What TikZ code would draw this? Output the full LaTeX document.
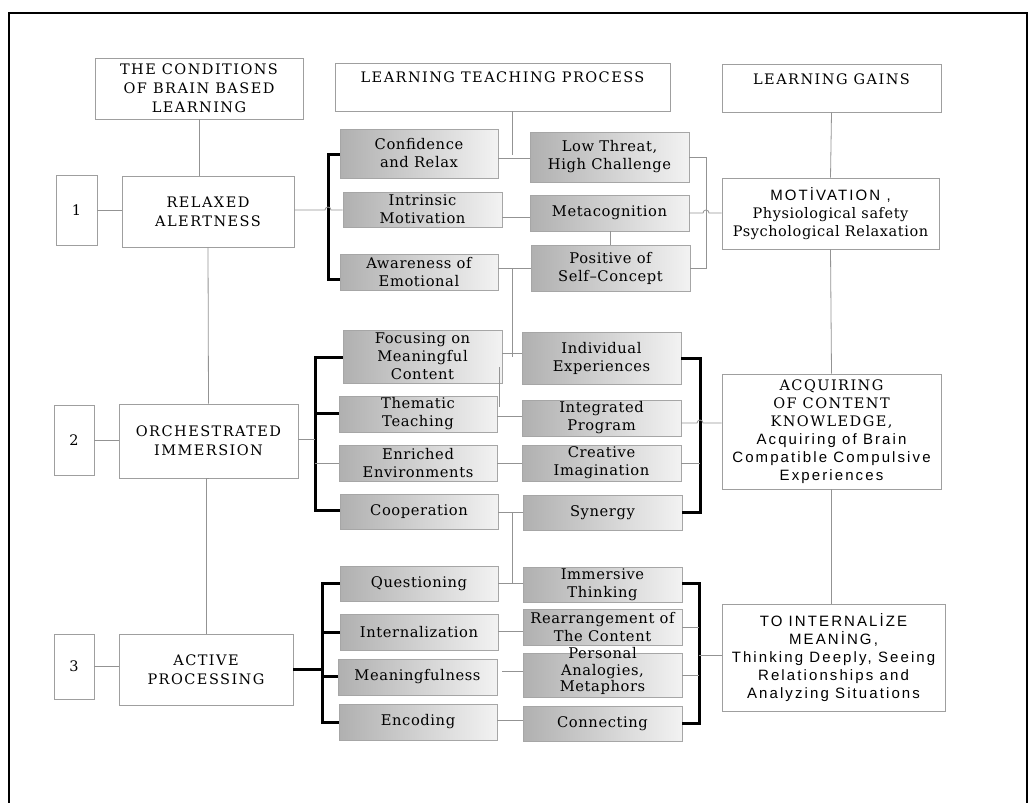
\documentclass[tikz,border=0pt]{standalone}
\usepackage{fontspec}
\setmainfont[LetterSpace=4]{DejaVu Serif}
\newfontfamily\capfont[LetterSpace=10]{DejaVu Serif}
\newfontfamily\gainsans[LetterSpace=14]{Liberation Sans}
\usetikzlibrary{calc}
\tikzset{
  wbox/.style={draw=gray!75, line width=0.9pt, fill=white, inner sep=0pt, align=center, text=black,
    font=\capfont\fontsize{14.5}{19}\selectfont},
  sbox/.style={draw=gray!75, line width=0.9pt, fill=white, inner sep=0pt, align=center, text=black,
    font=\fontsize{14.5}{18}\selectfont},
  gbox/.style={draw=gray!70, line width=0.8pt, left color=gray!62, right color=gray!10, inner sep=0pt,
    align=center, text=black, font=\fontsize{14.7}{18}\selectfont},
  conn/.style={draw=gray!85, line width=0.8pt},
  brk/.style={draw=black, line width=3pt, line join=miter},
}
\begin{document}
\begin{tikzpicture}[x=1pt,y=-1pt]
\useasboundingbox (0,0) rectangle (1028,803);
% outer frame
\draw[black, line width=2pt] (9,810) -- (9,13) -- (1027,13) -- (1027,810);

% headers
\node[wbox, minimum width=208pt, minimum height=61pt] (h1) at (199,88.5) {THE CONDITIONS\\OF BRAIN BASED\\LEARNING};
\node[wbox, minimum width=335pt, minimum height=48pt] (h2) at (502.5,87) {\raisebox{5pt}[0pt][0pt]{LEARNING TEACHING PROCESS}};
\node[wbox, minimum width=219pt, minimum height=48pt] (h3) at (831.5,88) {\raisebox{4pt}[0pt][0pt]{LEARNING GAINS}};

% left column
\node[sbox, minimum width=41pt, minimum height=70pt] (n1) at (76.5,210) {1};
\node[wbox, minimum width=172pt, minimum height=71pt] (ra) at (208,211.5) {RELAXED\\ALERTNESS};
\node[sbox, minimum width=40pt, minimum height=70pt] (n2) at (74,440) {2};
\node[wbox, minimum width=179pt, minimum height=74pt] (oi) at (208.5,441) {ORCHESTRATED\\IMMERSION};
\node[sbox, minimum width=40pt, minimum height=65pt] (n3) at (74,666.5) {3};
\node[wbox, minimum width=174pt, minimum height=71pt] (ap) at (206,669.5) {ACTIVE\\PROCESSING};

% right column
\node[sbox, minimum width=217pt, minimum height=71pt] (mot) at (830.5,213.5)
  {{\gainsans\fontsize{15}{18}\selectfont MOT\.IVATION ,}\\Physiological safety\\Psychological Relaxation};
\node[sbox, minimum width=219pt, minimum height=115pt] (acq) at (831.5,431.5)
  {{\capfont\fontsize{14.5}{18}\selectfont ACQUIRING}\\{\capfont\fontsize{14.5}{18}\selectfont OF CONTENT}\\{\capfont\fontsize{14.5}{18}\selectfont KNOWLEDGE,}\\
   {\gainsans\fontsize{15}{18}\selectfont Acquiring of Brain}\\{\gainsans\fontsize{15}{18}\selectfont Compatible Compulsive}\\{\gainsans\fontsize{15}{18}\selectfont Experiences}};
\node[sbox, minimum width=223pt, minimum height=107pt, font=\gainsans\fontsize{15}{18}\selectfont] (tim) at (833.5,657.5)
  {TO INTERNAL\.IZE\\MEAN\.ING,\\Thinking Deeply, Seeing\\Relationships and\\Analyzing Situations};

% gray boxes, group 1
\node[gbox, minimum width=158pt, minimum height=49pt] (c1) at (419,153.5) {Confidence\\and Relax};
\node[gbox, minimum width=159pt, minimum height=35pt] (c2) at (422.5,209.5) {Intrinsic\\Motivation};
\node[gbox, minimum width=158pt, minimum height=36pt] (c3) at (419,272) {Awareness of\\Emotional};
\node[gbox, minimum width=159pt, minimum height=50pt] (d1) at (609.5,157) {Low Threat,\\High Challenge};
\node[gbox, minimum width=159pt, minimum height=36pt] (d2) at (609.5,213) {Metacognition};
\node[gbox, minimum width=159pt, minimum height=46pt] (d3) at (610.5,268) {Positive of\\Self--Concept};

% group 2
\node[gbox, minimum width=159pt, minimum height=53pt] (e1) at (422.5,356.5) {Focusing on\\Meaningful\\Content};
\node[gbox, minimum width=158pt, minimum height=36pt] (e2) at (418,414) {Thematic\\Teaching};
\node[gbox, minimum width=158pt, minimum height=36pt] (e3) at (418,463) {Enriched\\Environments};
\node[gbox, minimum width=158pt, minimum height=35pt] (e4) at (419,511.5) {Cooperation};
\node[gbox, minimum width=159pt, minimum height=52pt] (f1) at (601.5,358) {Individual\\Experiences};
\node[gbox, minimum width=159pt, minimum height=36pt] (f2) at (601.5,418) {Integrated\\Program};
\node[gbox, minimum width=159pt, minimum height=36pt] (f3) at (601.5,463) {Creative\\Imagination};
\node[gbox, minimum width=159pt, minimum height=35pt] (f4) at (602.5,512.5) {Synergy};

% group 3
\node[gbox, minimum width=158pt, minimum height=35pt] (g1) at (419,583.5) {Questioning};
\node[gbox, minimum width=158pt, minimum height=36pt] (g2) at (419,632) {Internalization};
\node[gbox, minimum width=159pt, minimum height=36pt] (g3) at (417.5,677) {Meaningfulness};
\node[gbox, minimum width=158pt, minimum height=36pt] (g4) at (418,722) {Encoding};
\node[gbox, minimum width=159pt, minimum height=35pt] (k1) at (602.5,584.5) {Immersive\\Thinking};
\node[gbox, minimum width=159pt, minimum height=36pt] (k2) at (602.5,627) {Rearrangement of\\The Content};
\node[gbox, minimum width=159pt, minimum height=44pt] (k3) at (602.5,675)
  {\smash{\begin{tabular}{@{}c@{}}Personal\\[-1.5pt]Analogies,\\[-1.5pt]Metaphors\end{tabular}}};
\node[gbox, minimum width=159pt, minimum height=35pt] (k4) at (602.5,723.5) {Connecting};

% coordinates
\coordinate (t1) at (512,155);
\coordinate (v1) at (512,268);
\coordinate (v2) at (512,357);
\coordinate (v3) at (512,512);
\coordinate (v4) at (512,583);
\coordinate (w1) at (499,367);
\coordinate (w2) at (499,407);

% spine connectors
\draw[conn] (h1.south) -- (h1.south |- ra.north);
\draw[conn] (ra.south) -- (oi.north);
\draw[conn] (oi.south) -- (ap.north |- oi.south) -- (ap.north);
\draw[conn] (n1.east) -- (n1.east -| ra.west);
\draw[conn] (n2.east) -- (n2.east -| oi.west);
\draw[conn] (n3.east) -- (n3.east -| ap.west);
\draw[conn] (t1 |- h2.south) -- (t1);
\draw[conn] (h3.south) -- (mot.north);
\draw[conn] (mot.south) -- (acq.north);
\draw[conn] (acq.south) -- (acq.south |- tim.north);

% group 1 connectors
\draw[conn] (c1.east |- 0,158) -- (d1.west |- 0,158);
\draw[conn] (c2.east |- 0,217) -- (d2.west |- 0,217);
\draw[conn] (c3.east |- 0,268) -- (d3.west |- 0,268);
\draw[conn] (d2.south -| 610,0) -- (d3.north -| 610,0);
\draw[conn] (v1) -- (v2);
\draw[brk] (c1.west |- 0,154) -- (328,154) -- (328,279) -- (c3.west |- 0,279);
\draw[conn] (ra.east |- 0,210) -- (325,210) arc[start angle=180, end angle=360, radius=3] -- (c2.west |- 0,210);
\draw[conn] (d1.east |- 0,157) -- (706,157) -- (706,268) -- (d3.east |- 0,268);
\draw[conn] (d2.east |- 0,213) -- (703,213) arc[start angle=180, end angle=360, radius=3] -- (mot.west |- 0,213);

% group 2 connectors
\draw[conn] (e1.east |- 0,353) -- (f1.west |- 0,353);
\draw[conn] (e2.east |- 0,416) -- (f2.west |- 0,416);
\draw[conn] (e3.east |- 0,463) -- (f3.west |- 0,463);
\draw[conn] (e4.east |- 0,512) -- (f4.west |- 0,512);
\draw[conn] (w1) -- (w2);
\draw[brk] (e1.west |- 0,357) -- (315,357) -- (315,510) -- (e4.west |- 0,510);
\draw[brk] (315,413) -- (e2.west |- 0,413);
\draw[conn] (315,463) -- (e3.west |- 0,463);
\draw[conn] (oi.east |- 0,439) -- (315,439);
\draw[brk] (f1.east |- 0,358) -- (700,358) -- (700,512) -- (f4.east |- 0,512);
\draw[conn] (f3.east |- 0,463) -- (700,463);
\draw[conn] (f2.east |- 0,423) -- (697,423) arc[start angle=180, end angle=360, radius=3] -- (acq.west |- 0,423);
\draw[conn] (v3) -- (v4) -- (k1.west |- v4);
\draw[conn] (g1.east |- v4) -- (v4);

% group 3 connectors
\draw[conn] (g2.east |- 0,631) -- (k2.west |- 0,631);
\draw[conn] (502,671) -- (k3.west |- 0,671);
\draw[conn] (g4.east |- 0,720) -- (k4.west |- 0,720);
\draw[brk] (g1.west |- 0,583) -- (322,583) -- (322,722) -- (g4.west |- 0,722);
\draw[brk] (322,632) -- (g2.west |- 0,632);
\draw[brk] (322,676) -- (g3.west |- 0,676);
\draw[brk] (ap.east |- 0,669) -- (322,669);
\draw[brk] (k1.east |- 0,583) -- (699,583) -- (699,723) -- (k4.east |- 0,723);
\draw[conn] (k2.east |- 0,627) -- (699,627);
\draw[conn] (k3.east |- 0,675) -- (699,675);
\draw[conn] (699,655) -- (tim.west |- 0,655);
\end{tikzpicture}
\end{document}
